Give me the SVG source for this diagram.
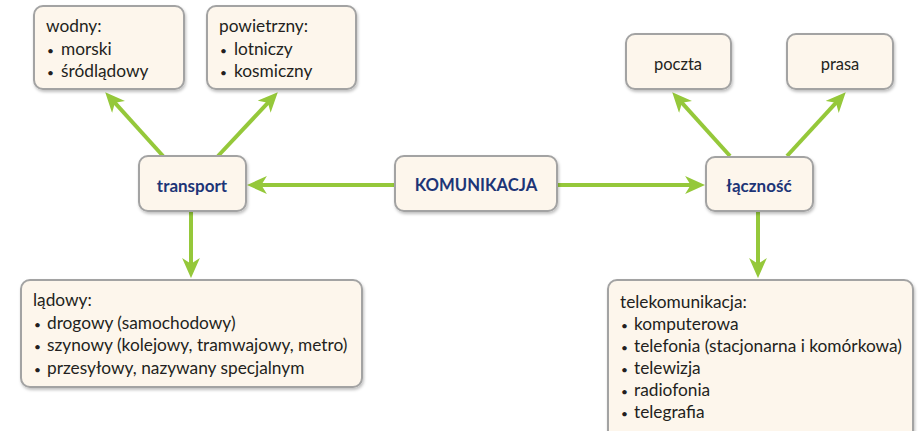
<svg xmlns="http://www.w3.org/2000/svg" width="919" height="431" viewBox="0 0 919 431">
<style>
.box{fill:#fdf6ec;stroke:#a3a3a3;stroke-width:2;filter:url(#sh)}
.t{font-family:Lato,"Open Sans","Liberation Sans",sans-serif;font-size:17.3px;fill:#231f20}
.p{font-size:16.5px;text-anchor:middle}
.b{font-size:12px}
.h{font-family:Lato,"Open Sans","Liberation Sans",sans-serif;font-weight:bold;fill:#1d3577;text-anchor:middle}
.a{stroke:#95c83a;stroke-width:4;fill:none;marker-end:url(#ah)}
</style>
<defs>
<filter id="sh" x="-10%" y="-10%" width="120%" height="130%"><feDropShadow dx="1" dy="2" stdDeviation="1.5" flood-color="#000" flood-opacity="0.25"/></filter>
<marker id="ah" markerUnits="userSpaceOnUse" markerWidth="20" markerHeight="18" viewBox="0 0 18 16" refX="8" refY="8" orient="auto"><path d="M0,0 L18,8 L0,16 L5,8 z" fill="#95c83a"/></marker>
</defs>
<g id="connectors">
<line class="a" x1="395" y1="185" x2="258" y2="185"/>
<line class="a" x1="557" y1="185" x2="694" y2="185"/>
<line class="a" x1="163" y1="156" x2="112.7" y2="100.4"/>
<line class="a" x1="218" y1="156" x2="270.2" y2="100.3"/>
<line class="a" x1="730" y1="156" x2="679.7" y2="100.4"/>
<line class="a" x1="787" y1="156" x2="838.2" y2="100.4"/>
<line class="a" x1="191" y1="211" x2="191" y2="267"/>
<line class="a" x1="758" y1="211" x2="758" y2="267"/>
</g>
<g id="wodny">
<rect class="box" x="34" y="6" width="150" height="83" rx="9"/>
<text class="t" x="46" y="32">wodny:</text>
<text class="t" x="47" y="55"><tspan class="b">•</tspan><tspan x="61">morski</tspan></text>
<text class="t" x="47" y="77"><tspan class="b">•</tspan><tspan x="61">śródlądowy</tspan></text>
</g>
<g id="powietrzny">
<rect class="box" x="207" y="6" width="149" height="83" rx="9"/>
<text class="t" x="219" y="32">powietrzny:</text>
<text class="t" x="220" y="55"><tspan class="b">•</tspan><tspan x="234">lotniczy</tspan></text>
<text class="t" x="220" y="77"><tspan class="b">•</tspan><tspan x="234">kosmiczny</tspan></text>
</g>
<g id="transport">
<rect class="box" x="139" y="156" width="107" height="55" rx="9"/>
<text class="h" x="192" y="192" font-size="17">transport</text>
</g>
<g id="komunikacja">
<rect class="box" x="395" y="156" width="162" height="55" rx="9"/>
<text class="h" x="476" y="191" font-size="16.7">KOMUNIKACJA</text>
</g>
<g id="lacznosc">
<rect class="box" x="706" y="157" width="107" height="54" rx="9"/>
<text class="h" x="759" y="192" font-size="17">łączność</text>
</g>
<g id="poczta">
<rect class="box" x="626" y="34" width="105" height="55" rx="9"/>
<text class="t p" x="678" y="70">poczta</text>
</g>
<g id="prasa">
<rect class="box" x="787" y="34" width="106" height="55" rx="9"/>
<text class="t p" x="840" y="70">prasa</text>
</g>
<g id="ladowy">
<rect class="box" x="21" y="280" width="341" height="107" rx="9"/>
<text class="t" x="33" y="306">lądowy:</text>
<text class="t" x="34" y="329"><tspan class="b">•</tspan><tspan x="47">drogowy (samochodowy)</tspan></text>
<text class="t" x="34" y="351"><tspan class="b">•</tspan><tspan x="47">szynowy (kolejowy, tramwajowy, metro)</tspan></text>
<text class="t" x="34" y="374"><tspan class="b">•</tspan><tspan x="47">przesyłowy, nazywany specjalnym</tspan></text>
</g>
<g id="telekomunikacja">
<rect class="box" x="608" y="280" width="305" height="165" rx="9"/>
<text class="t" x="620" y="308">telekomunikacja:</text>
<text class="t" x="621" y="330"><tspan class="b">•</tspan><tspan x="634">komputerowa</tspan></text>
<text class="t" x="621" y="352"><tspan class="b">•</tspan><tspan x="634">telefonia (stacjonarna i komórkowa)</tspan></text>
<text class="t" x="621" y="374"><tspan class="b">•</tspan><tspan x="634">telewizja</tspan></text>
<text class="t" x="621" y="396"><tspan class="b">•</tspan><tspan x="634">radiofonia</tspan></text>
<text class="t" x="621" y="418"><tspan class="b">•</tspan><tspan x="634">telegrafia</tspan></text>
</g>
</svg>
